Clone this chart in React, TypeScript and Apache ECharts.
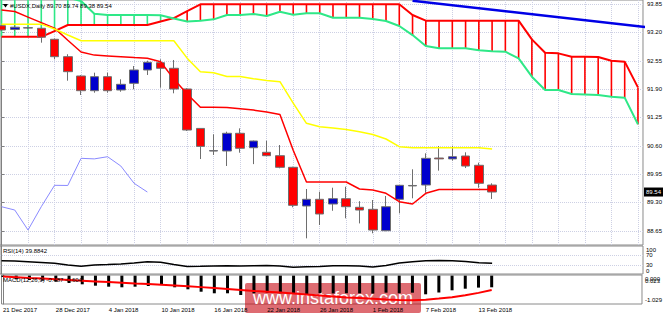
import React, { useEffect, useRef } from 'react';
import * as echarts from 'echarts';

const dates = ['21 Dec 2017','22 Dec 2017','26 Dec 2017','27 Dec 2017','28 Dec 2017','29 Dec 2017','2 Jan 2018','3 Jan 2018','4 Jan 2018','5 Jan 2018','8 Jan 2018','9 Jan 2018','10 Jan 2018','11 Jan 2018','12 Jan 2018','15 Jan 2018','16 Jan 2018','17 Jan 2018','18 Jan 2018','19 Jan 2018','22 Jan 2018','23 Jan 2018','24 Jan 2018','25 Jan 2018','26 Jan 2018','29 Jan 2018','30 Jan 2018','31 Jan 2018','1 Feb 2018','2 Feb 2018','5 Feb 2018','6 Feb 2018','7 Feb 2018','8 Feb 2018','9 Feb 2018','12 Feb 2018','13 Feb 2018','14 Feb 2018'];

const opens  = [93.355,93.27,93.30,93.295,93.043,92.644,92.201,91.864,92.185,91.880,92.033,92.339,92.506,92.378,91.903,90.999,90.48,90.481,90.887,90.556,90.451,90.373,90.107,89.22,89.373,89.265,89.387,89.19,89.143,88.653,89.373,89.68,89.701,90.32,90.30,90.366,90.153,89.70];
const highs  = [93.38,93.36,93.33,93.31,93.06,92.70,92.22,92.277,92.277,92.125,92.43,92.552,92.584,92.568,91.92,91.00,90.864,90.924,91.00,90.72,90.717,90.618,90.12,89.609,89.547,89.639,89.662,89.33,89.357,89.449,89.70,90.061,90.428,90.595,90.60,90.451,90.213,89.74];
const lows   = [93.23,93.24,93.28,92.965,92.584,92.093,91.765,91.818,91.818,91.84,91.896,92.224,91.933,91.804,90.94,90.297,90.389,90.137,90.442,90.18,90.36,90.084,89.19,88.478,88.783,89.11,88.937,88.82,88.593,88.64,89.05,89.396,89.524,90.03,90.26,90.09,89.638,89.38];
const closes = [93.256,93.32,93.31,93.09,92.644,92.30,91.864,92.185,91.864,92.01,92.339,92.515,92.378,91.903,90.962,90.587,90.49,90.887,90.543,90.71,90.373,90.107,89.235,89.373,89.036,89.387,89.203,89.127,88.668,89.203,89.694,89.69,90.313,90.30,90.35,90.136,89.74,89.54];

const tenkan = [93.715,93.68,93.55,93.426,93.30,93.02,92.75,92.68,92.662,92.644,92.625,92.607,92.529,92.13,91.79,91.483,91.483,91.48,91.45,91.42,91.375,91.32,90.50,89.77,89.77,89.77,89.77,89.61,89.586,89.51,89.318,89.265,89.51,89.597,89.60,89.60,89.60,89.60];
const kijun = [93.39,93.39,93.39,93.39,93.28,93.14,93.01,93.01,93.01,93.01,93.01,93.01,93.01,93.01,92.61,92.30,92.276,92.19,92.19,92.14,92.10,92.07,91.58,91.116,91.036,91.01,90.975,90.924,90.86,90.756,90.58,90.556,90.556,90.556,90.556,90.556,90.556,90.527];
const senkouA = [93.10,93.10,93.10,93.10,93.23,93.37,93.37,93.37,93.37,93.37,93.37,93.37,93.45,93.53,93.69,93.845,93.845,93.845,93.845,93.845,93.845,93.845,93.845,93.845,93.845,93.845,93.845,93.845,93.845,93.845,93.845,93.60,93.47,93.47,93.47,93.47,93.47,93.47,93.47,93.47,93.04,92.735,92.72,92.644,92.644,92.637,92.55,92.53,91.94];
const senkouB = [94.05,94.05,94.05,94.05,94.05,94.0,93.92,93.63,93.60,93.60,93.60,93.60,93.593,93.52,93.45,93.47,93.50,93.60,93.60,93.623,93.577,93.676,93.607,93.64,93.64,93.538,93.538,93.538,93.508,93.462,93.348,93.14,92.89,92.836,92.836,92.836,92.79,92.77,92.758,92.607,92.185,91.88,91.88,91.788,91.777,91.765,91.727,91.704,91.093];

const rsi = [49.5,48.5,46,43,39.6,33,28,33,34.5,37,41,46,43.6,35,27,27.5,29,30,28.5,30,30.5,29,23.6,26,26.5,30,29.5,29,25,31,41,46,50,50.5,50,47,42,39.8842];
const macdMain = [-0.056,-0.153,-0.182,-0.211,-0.253,-0.308,-0.362,-0.42,-0.462,-0.487,-0.462,-0.433,-0.391,-0.487,-0.571,-0.672,-0.738,-0.738,-0.81,-0.738,-0.713,-0.738,-0.747,-0.81,-0.73,-0.745,-0.735,-0.74,-0.75,-0.713,-0.738,-0.713,-0.78,-0.705,-0.613,-0.546,-0.50,-0.487];
const macdSignal = [-0.04,-0.07,-0.10,-0.12,-0.15,-0.18,-0.21,-0.24,-0.27,-0.30,-0.33,-0.35,-0.38,-0.41,-0.44,-0.48,-0.52,-0.56,-0.60,-0.64,-0.67,-0.71,-0.75,-0.79,-0.83,-0.87,-0.91,-0.94,-0.97,-1.0,-1.02,-1.03,-1.01,-0.96,-0.9,-0.82,-0.72,-0.604];

const trendline = [[31, 93.926], [49, 93.309]];

const priceTicks = [93.85, 93.2, 92.55, 91.9, 91.25, 90.6, 89.95, 89.3, 88.65];
const rsiTicksA = [100, 30];
const rsiTicksB = [70, 0];
const rsiLevels = [70, 30];
const macdTicksA = [0.023, -1.029];
const macdTicksB = [0];
const dateTicks = [0, 4, 8, 12, 16, 20, 24, 28, 32, 36];
const gridIdx = [0,2,4,6,8,10,12,14,16,18,20,22,24,26,28,30,32,34,36,38,40,42,44,46,48];

const FONT = "'Liberation Sans', Arial, sans-serif";
const RED = '#ff0000';
const GREEN = '#2ee887';
const GRIDC = '#cdd0e4';

export default function App() {
  const ref = useRef<HTMLDivElement>(null);
  useEffect(() => {
    if (!ref.current) return;
    const chart = echarts.init(ref.current, undefined, { renderer: 'svg' });
    const xMin = -0.113, xMax = 48.38;
    const last = opens.length - 1;
    const header = `#USDX,Daily ${opens[last].toFixed(2)} ${highs[last].toFixed(2)} ${lows[last].toFixed(2)} ${closes[last].toFixed(2)}`;
    const candles = opens.map((o, i) => [i, o, closes[i], lows[i], highs[i]]);
    const pairs = (arr: number[]) => arr.map((v, i) => [i, v]);
    const lineBase = { type: 'line', showSymbol: false, symbol: 'none', silent: true };
    const lbl = { fontSize: 6, fontFamily: FONT, color: '#000' };

    const rich: any = {
      a: { ...lbl, padding: [4, 0, 0, 0] },
      b: { ...lbl, padding: [0, 0, 2, 0] },
      c: { ...lbl, padding: [0, 0, 1, 0] },
      d: { ...lbl, padding: [0, 0, 5, 0] },
      e: { ...lbl, padding: [11, 0, 0, 0] },
      f: { ...lbl, padding: [7, 0, 0, 0] },
      g: { ...lbl },
    };
    const rsiKey = (v: number) => (v === 100 ? 'a' : v === 70 ? 'b' : v === 30 ? 'c' : 'd');
    const macdKey = (v: number) => (v > 0.01 ? 'e' : v === 0 ? 'f' : 'g');

    const subAxis = (grid: number, min: number, max: number, values: number[], fmt: (v: number) => string, lineShow: boolean) => ({
      type: 'value', gridIndex: grid, position: 'right', min, max,
      splitLine: { show: false },
      axisLine: { show: lineShow, lineStyle: { color: '#808080' } },
      axisTick: { show: false },
      axisLabel: { customValues: values, margin: 3, hideOverlap: false, ...lbl, rich, formatter: fmt },
    });

    const option: any = {
      animation: false,
      backgroundColor: '#ffffff',
      grid: [
        { left: 0, top: 0, width: 643, height: 245, show: true, borderColor: '#8a8a8a', borderWidth: 1 },
        { left: 0, top: 246, width: 643, height: 28, show: true, borderColor: '#8a8a8a', borderWidth: 1 },
        { left: 0, top: 275, width: 643, height: 29, show: true, borderColor: '#8a8a8a', borderWidth: 1 },
      ],
      xAxis: [0, 1, 2].map((g) => ({
        type: 'value', gridIndex: g, min: xMin, max: xMax,
        axisLine: { show: false }, splitLine: { show: false },
        axisTick: { show: g === 2, customValues: dateTicks, length: 2, lineStyle: { color: '#808080' } },
        axisLabel: {
          show: g === 2, customValues: dateTicks, align: 'left', margin: 3, hideOverlap: false,
          ...lbl,
          formatter: (v: number) => dates[Math.round(v)] ?? '',
        },
      })),
      yAxis: [
        {
          type: 'value', gridIndex: 0, position: 'right', min: 88.325, max: 93.944,
          splitLine: { show: false },
          axisLine: { show: true, lineStyle: { color: '#808080' } },
          axisTick: { show: true, customValues: priceTicks, length: 3, lineStyle: { color: '#808080' } },
          axisLabel: { customValues: priceTicks, margin: 4, hideOverlap: false, ...lbl, formatter: (v: number) => v.toFixed(2) },
        },
        subAxis(1, -3.2, 108.8, rsiTicksA, (v) => `{${rsiKey(v)}|${v}}`, true),
        subAxis(2, -1.186, 0.0272, macdTicksA, (v) => `{${macdKey(v)}|${v.toFixed(3)}}`, true),
        subAxis(1, -3.2, 108.8, rsiTicksB, (v) => `{${rsiKey(v)}|${v}}`, false),
        subAxis(2, -1.186, 0.0272, macdTicksB, (v) => `{${macdKey(v)}|${v.toFixed(3)}}`, false),
      ],
      series: [
        {
          ...lineBase, name: 'grid', xAxisIndex: 0, yAxisIndex: 0, data: [], z: 0,
          markLine: {
            z: 0, silent: true, symbol: ['none', 'none'], label: { show: false },
            lineStyle: { color: GRIDC, type: 'dotted', width: 1 },
            data: [
              ...priceTicks.map((v) => ({ yAxis: v })),
              ...gridIdx.map((i) => ({ xAxis: i })),
            ],
          },
        },
        {
          type: 'custom', name: 'cloud', xAxisIndex: 0, yAxisIndex: 0, z: 1, silent: true,
          data: senkouA.map((a, i) => [i, a, senkouB[i]]),
          encode: { x: 0, y: [1, 2] },
          renderItem: (params: any, api: any) => {
            const i = api.value(0);
            const a = api.value(1);
            const b = api.value(2);
            const p1 = api.coord([i, a]);
            const p2 = api.coord([i, b]);
            return {
              type: 'line',
              shape: { x1: p1[0], y1: p1[1], x2: p2[0], y2: p2[1] },
              style: { stroke: a >= b ? RED : GREEN, lineWidth: 1.6 },
            };
          },
        },
        { ...lineBase, name: 'Senkou A', xAxisIndex: 0, yAxisIndex: 0, z: 2, data: pairs(senkouA), lineStyle: { color: RED, width: 2 } },
        { ...lineBase, name: 'Senkou B', xAxisIndex: 0, yAxisIndex: 0, z: 2, data: pairs(senkouB), lineStyle: { color: GREEN, width: 2 } },
        { ...lineBase, name: 'Chikou', xAxisIndex: 0, yAxisIndex: 0, z: 2, data: closes.slice(26).map((c, k) => [k, c]), lineStyle: { color: '#8a8aff', width: 1 } },
        {
          type: 'candlestick', name: 'USDX', xAxisIndex: 0, yAxisIndex: 0, z: 3, silent: true,
          data: candles, encode: { x: 0, y: [1, 2, 3, 4] }, barWidth: 9,
          itemStyle: { color: '#0000cd', color0: '#ff0000', borderColor: '#6e6e6e', borderColor0: '#6e6e6e', borderWidth: 1 },
          markLine: {
            z: 10, silent: true, symbol: ['none', 'none'],
            lineStyle: { color: 'rgba(0,0,0,0)', width: 1, type: 'solid' },
            label: {
              show: true, position: 'end', distance: 1,
              formatter: () => closes[last].toFixed(2),
              backgroundColor: '#000', color: '#fff', fontSize: 6, fontFamily: FONT, padding: [2, 2, 1, 2],
            },
            data: [{ yAxis: closes[last] }],
          },
        },
        { ...lineBase, name: 'Tenkan', xAxisIndex: 0, yAxisIndex: 0, z: 4, data: pairs(tenkan), lineStyle: { color: RED, width: 1.5 } },
        { ...lineBase, name: 'Kijun', xAxisIndex: 0, yAxisIndex: 0, z: 4, data: pairs(kijun), lineStyle: { color: '#ffff00', width: 1.5 } },
        { ...lineBase, name: 'Trend', xAxisIndex: 0, yAxisIndex: 0, z: 4, data: trendline, lineStyle: { color: '#0000e6', width: 2.5 } },
        {
          ...lineBase, name: 'RSI', xAxisIndex: 1, yAxisIndex: 1, z: 3, data: pairs(rsi), lineStyle: { color: '#000', width: 1.5 },
          markLine: {
            z: 0, silent: true, symbol: ['none', 'none'], label: { show: false },
            lineStyle: { color: GRIDC, type: 'dotted', width: 1 },
            data: rsiLevels.map((v) => ({ yAxis: v })),
          },
        },
        { type: 'bar', name: 'MACD', xAxisIndex: 2, yAxisIndex: 2, z: 2, silent: true, barWidth: 3, data: pairs(macdMain), itemStyle: { color: '#000' } },
        { ...lineBase, name: 'Signal', xAxisIndex: 2, yAxisIndex: 2, z: 3, data: pairs(macdSignal), lineStyle: { color: RED, width: 2 } },
      ],
      graphic: [
        { type: 'polygon', z: 10, shape: { points: [[3, 4], [8, 4], [5.5, 7.5]] }, style: { fill: '#000' } },
        { type: 'text', z: 10, x: 10, y: 6, style: { text: header, fontSize: 6, fontFamily: FONT, fill: '#000', verticalAlign: 'middle' } },
        { type: 'text', z: 10, x: 3, y: 251, style: { text: `RSI(14) ${rsi[last].toFixed(4)}`, fontSize: 6, fontFamily: FONT, fill: '#000', verticalAlign: 'middle' } },
        { type: 'text', z: 10, x: 3, y: 280, style: { text: `MACD(12,26,9) ${macdMain[last].toFixed(3)} ${macdSignal[last].toFixed(3)}`, fontSize: 6, fontFamily: FONT, fill: '#000', verticalAlign: 'middle' } },
        {
          type: 'group', z: 20,
          children: [
            { type: 'rect', shape: { x: 245, y: 283, width: 176, height: 30, r: 2 }, style: { fill: 'rgba(200,10,20,0.6)' } },
            { type: 'text', x: 333, y: 298, style: { text: 'www.instaforex.com', fontSize: 18, fontFamily: FONT, fill: '#fff', align: 'center', verticalAlign: 'middle' } },
          ],
        },
      ],
    };
    chart.setOption(option);
    return () => chart.dispose();
  }, []);
  return <div ref={ref} style={{ position: 'fixed', left: 0, top: 0, width: 665, height: 315, background: '#fff' }} />;
}
